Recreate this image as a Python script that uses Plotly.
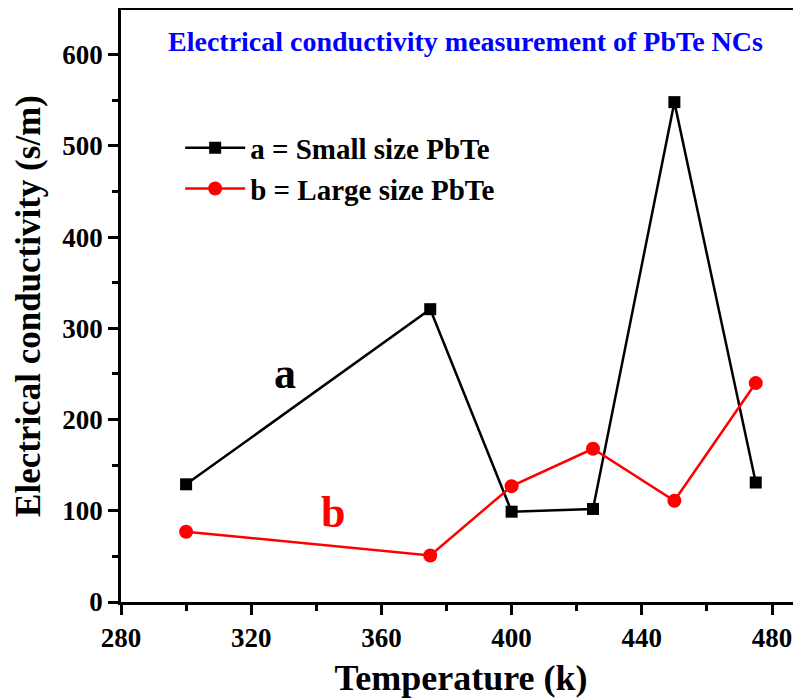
import plotly.graph_objects as go

temperature = [300, 375, 400, 425, 450, 475]
small_pbte = [129, 321, 99, 102, 548, 131]
large_pbte = [77, 51, 127, 168, 111, 240]

FONT = "Liberation Serif, Times New Roman, serif"

fig = go.Figure()
fig.add_trace(go.Scatter(
    x=temperature, y=small_pbte, mode="lines+markers",
    name="a = Small size PbTe",
    line=dict(color="black", width=2.5),
    marker=dict(symbol="square", size=12, color="black"),
))
fig.add_trace(go.Scatter(
    x=temperature, y=large_pbte, mode="lines+markers",
    name="b = Large size PbTe",
    line=dict(color="red", width=2.5),
    marker=dict(symbol="circle", size=14, color="red"),
))

axis_common = dict(
    showline=True, linecolor="black", linewidth=2.5, mirror=True,
    ticks="outside", ticklen=10, tickwidth=2.5, tickcolor="black",
    showgrid=False, zeroline=False, automargin=False,
    tickfont=dict(family=FONT, size=27, color="black", weight="bold"),
)

fig.update_xaxes(
    range=[280, 488.9], tickvals=[280, 320, 360, 400, 440, 480],
    minor=dict(ticks="outside", ticklen=6, tickwidth=2.5, dtick=20, tick0=280, tickcolor="black"),
    title=dict(text="Temperature (k)", font=dict(family=FONT, size=36, color="black", weight="bold"), standoff=13),
    **axis_common,
)
fig.update_yaxes(
    range=[0, 649], tickvals=[0, 100, 200, 300, 400, 500, 600],
    minor=dict(ticks="outside", ticklen=6, tickwidth=2.5, dtick=50, tick0=0, tickcolor="black"),
    title=dict(text="Electrical conductivity (s/m)", font=dict(family=FONT, size=35, color="black", weight="bold"), standoff=12),
    **axis_common,
)

fig.add_annotation(x=385.7, y=614, showarrow=False, xanchor="center",
                   text="Electrical conductivity measurement of PbTe NCs",
                   font=dict(family=FONT, size=28, color="blue", weight="bold"))
fig.add_annotation(x=330.5, y=250, showarrow=False, text="a",
                   font=dict(family=FONT, size=44, color="black", weight="bold"))
fig.add_annotation(x=345, y=98, showarrow=False, text="b",
                   font=dict(family=FONT, size=44, color="red", weight="bold"))

# page body has an 8px margin, so shift the plot area up/left by that much
fig.update_layout(
    width=801, height=700,
    margin=dict(l=113, r=8, t=2, b=106),
    plot_bgcolor="white", paper_bgcolor="white",
    showlegend=True,
    legend=dict(x=0.087, y=0.81, xanchor="left", yanchor="top",
                bgcolor="rgba(0,0,0,0)",
                font=dict(family=FONT, size=29, color="black", weight="bold"),
                itemwidth=60, tracegroupgap=0),
)

fig.write_html("out.html")
